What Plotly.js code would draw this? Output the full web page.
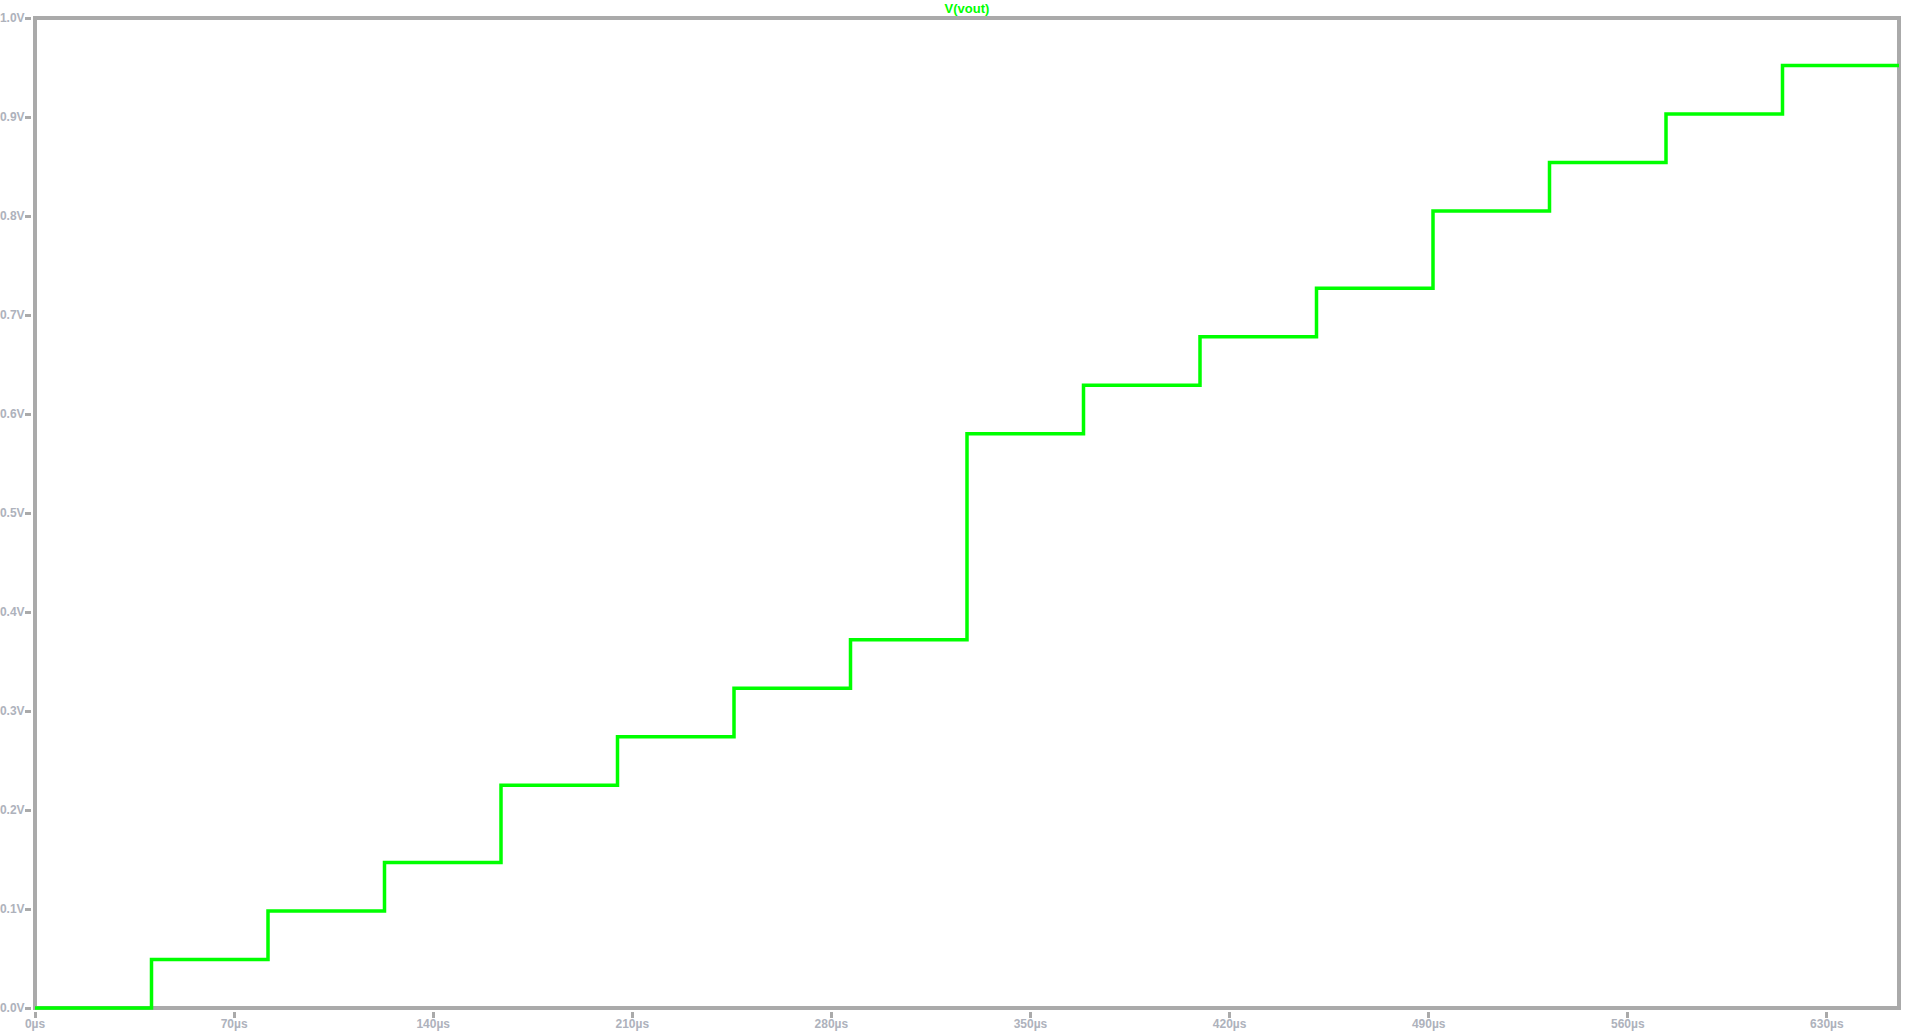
<!DOCTYPE html>
<html>
<head>
<meta charset="utf-8">
<script src="https://cdn.plot.ly/plotly-3.0.1.min.js"></script>
<style>
  html, body { margin: 0; padding: 0; background: #ffffff; }
  #chart { width: 1916px; height: 1034px; }
</style>
</head>
<body>
<div id="chart"></div>
<script>
// ---- data ----
const stepStartUs = [0, 40.96, 81.92, 122.88, 163.84, 204.8, 245.76, 286.72,
                     327.68, 368.64, 409.6, 450.56, 491.52, 532.48, 573.44, 614.4];
const stepLevelV  = [0, 0.049, 0.098, 0.147, 0.225, 0.274, 0.323, 0.372,
                     0.580, 0.629, 0.678, 0.727, 0.805, 0.854, 0.903, 0.952];
const endUs = 655.36;
const xTickVals  = [0, 70, 140, 210, 280, 350, 420, 490, 560, 630];
const xTickText  = ['0\u00b5s', '70\u00b5s', '140\u00b5s', '210\u00b5s', '280\u00b5s', '350\u00b5s',
                    '420\u00b5s', '490\u00b5s', '560\u00b5s', '630\u00b5s'];
const yTickVals  = [0, 0.1, 0.2, 0.3, 0.4, 0.5, 0.6, 0.7, 0.8, 0.9, 1.0];
const yTickText  = ['0.0V', '0.1V', '0.2V', '0.3V', '0.4V', '0.5V', '0.6V', '0.7V', '0.8V', '0.9V', '1.0V'];
const traceName  = 'V(vout)';
const yMax = 1.0;

// ---- build ----
const xs = stepStartUs.concat([endUs]);
const ys = stepLevelV.concat([stepLevelV[stepLevelV.length - 1]]);

const W = 1916, H = 1034;
const plotL = 35, plotR = 1899, plotT = 18, plotB = 1008; // frame line centres
const pad = 3;
const pxPerUs = (plotR - plotL) / endUs;
const pxPerV = (plotB - plotT) / yMax;

const gray = '#aaaaaa';
const labelColor = '#aeb2bc';
const font = '"Liberation Sans", Arial, sans-serif';

const trace = {
  x: xs, y: ys, type: 'scatter', mode: 'lines', name: traceName,
  line: { shape: 'hv', color: '#00ff00', width: 3.5 },
  hoverinfo: 'x+y'
};

const layout = {
  width: W, height: H,
  paper_bgcolor: '#ffffff', plot_bgcolor: '#ffffff',
  showlegend: false,
  margin: { l: plotL - pad, r: W - plotR - pad, t: plotT - pad, b: H - plotB - pad, pad: 0 },
  title: {
    text: traceName,
    font: { family: font, size: 13, color: '#00ff00', weight: 'bold' },
    x: (plotL + plotR) / 2 / W, xanchor: 'center', xref: 'container',
    y: 1 - 8 / H, yanchor: 'middle', yref: 'container'
  },
  xaxis: {
    range: [-pad / pxPerUs, endUs + pad / pxPerUs],
    tickmode: 'array', tickvals: xTickVals, ticktext: xTickText,
    ticks: 'outside', ticklen: 6, tickwidth: 3, tickcolor: gray,
    ticklabelstandoff: -4,
    showgrid: false, zeroline: false, showline: false,
    tickfont: { family: font, size: 12, color: labelColor, weight: 'bold' },
    fixedrange: true
  },
  yaxis: {
    range: [-pad / pxPerV, yMax + pad / pxPerV],
    tickmode: 'array', tickvals: yTickVals, ticktext: yTickText,
    ticks: 'outside', ticklen: 6, tickwidth: 3, tickcolor: gray,
    ticklabelstandoff: -2,
    showgrid: false, zeroline: false, showline: false,
    tickfont: { family: font, size: 12, color: labelColor, weight: 'bold' },
    fixedrange: true
  },
  shapes: [{
    type: 'rect', xref: 'x', yref: 'y', layer: 'below',
    x0: 0, x1: endUs, y0: 0, y1: yMax,
    line: { color: gray, width: 4 }
  }]
};

Plotly.newPlot('chart', [trace], layout, { displayModeBar: false, staticPlot: true });
</script>
</body>
</html>
